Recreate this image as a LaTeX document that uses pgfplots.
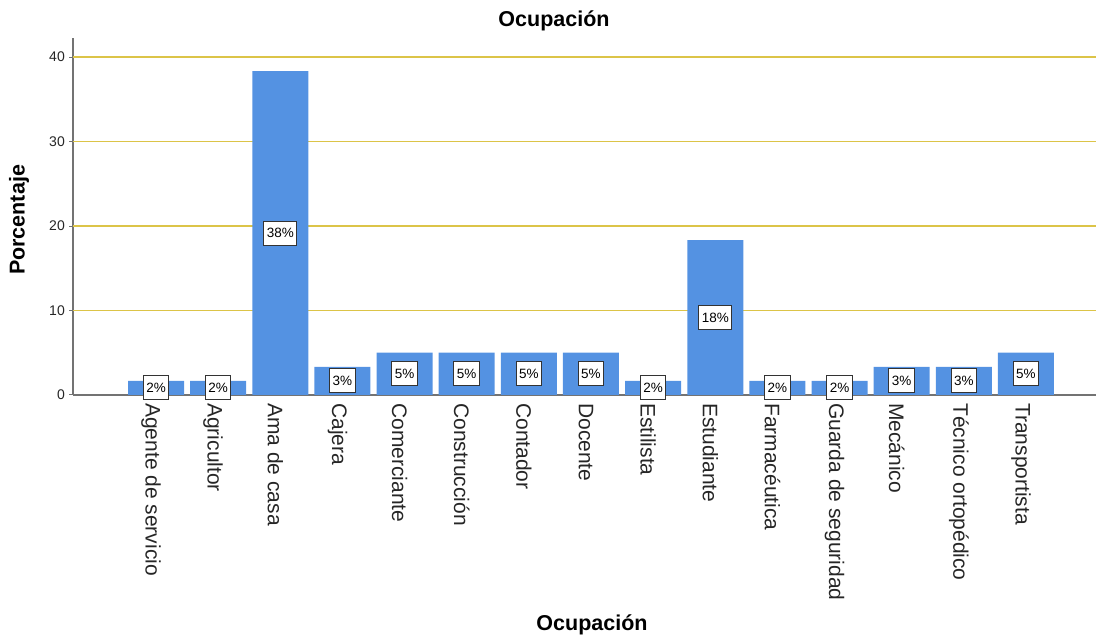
\documentclass[border=0pt]{standalone}
\usepackage{fontspec}
\setmainfont{Liberation Sans}
\usepackage{pgfplots}
\usepackage{pgfplotstable}
\pgfplotsset{compat=1.18}

\definecolor{barblue}{RGB}{84,146,226}
\definecolor{gridyellow}{RGB}{220,196,72}
\definecolor{axisgray}{RGB}{115,115,115}

% Porcentaje por ocupacion (n = 60)
\pgfplotstableread{
x v
0 1.67
1 1.67
2 38.33
3 3.33
4 5.00
5 5.00
6 5.00
7 5.00
8 1.67
9 18.33
10 1.67
11 1.67
12 3.33
13 3.33
14 5.00
}\ocupacion

\begin{document}
\begin{tikzpicture}[x=1pt,y=1pt]
\begin{axis}[
  at={(73pt,247pt)}, anchor=south west,
  scale only axis, width=1023pt, height=357pt,
  xmin=-1.336, xmax=15.127, ymin=0, ymax=42.25,
  axis x line=bottom, axis y line=left,
  axis line style={-, draw=axisgray, line width=1.3pt},
  xtick={0,...,14},
  xticklabels={Agente de servicio, Agricultor, Ama de casa, Cajera, Comerciante, Construcción, Contador, Docente, Estilista, Estudiante, Farmacéutica, Guarda de seguridad, Mecánico, Técnico ortopédico, Transportista},
  x tick style={draw=none},
  xticklabel style={rotate=-90, anchor=west, font=\fontsize{21}{24}\selectfont, text=black!85, inner sep=0pt, xshift=4pt, yshift=-5pt},
  ytick={0},
  extra y ticks={10,20,30,40},
  extra y tick style={grid=major},
  y tick style={draw=axisgray, line width=1pt},
  tick align=outside, major tick length=4pt,
  yticklabel style={font=\fontsize{14}{16}\selectfont, text=black!85, inner sep=0pt, xshift=-4pt},
  /pgf/number format/assume math mode=true,
  major grid style={draw=gridyellow, line width=1.2pt},
  clip=false,
]
\addplot[ybar, bar width=56pt, fill=barblue, draw=none] table[x=x, y=v] {\ocupacion};
\addplot[draw=none, mark=none, point meta=explicit,
  nodes near coords={\pgfmathprintnumber[fixed,precision=0]{\pgfplotspointmeta}\%},
  every node near coord/.append style={anchor=center, fill=white, draw=black!80, line width=1pt,
    font=\fontsize{13.5}{15}\selectfont, text=black, inner xsep=3pt, inner ysep=6.5pt,
    text height=10pt, text depth=1pt}]
  table[x=x, y expr=\thisrow{v}/2, meta=v] {\ocupacion};
\end{axis}
\node[font=\bfseries\fontsize{21.5}{24}\selectfont] at (554,621) {Ocupación};
\node[font=\bfseries\fontsize{21.5}{24}\selectfont] at (592,17) {Ocupación};
\node[font=\bfseries\fontsize{21.5}{24}\selectfont, rotate=90] at (19,422) {Porcentaje};
\pgfresetboundingbox
\useasboundingbox (0,0) rectangle (1096,642);
\end{tikzpicture}
\end{document}
